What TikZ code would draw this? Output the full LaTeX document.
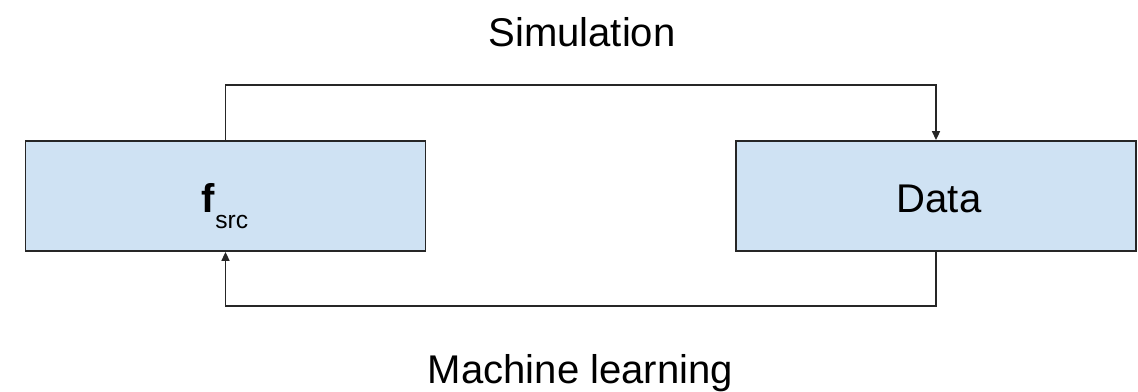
\documentclass[tikz,border=0pt]{standalone}
\usepackage{fontspec}
\setmainfont{Liberation Sans}
\usetikzlibrary{arrows.meta}
\definecolor{boxblue}{RGB}{207,226,243}
\tikzset{
  blockbox/.style={draw=black!85,line width=1.1pt,fill=boxblue,minimum width=8cm,minimum height=2.2cm,inner sep=0pt},
  flowline/.style={line width=0.9pt,draw=black!85},
  lbl/.style={inner sep=0pt,anchor=base}
}
\begin{document}
\begin{tikzpicture}[>={Triangle[length=5pt,width=4.5pt]},font=\fontsize{22.8}{27}\selectfont]
      \useasboundingbox (0,0) rectangle (22.76,7.82);
      \node [blockbox] (fsrc) at (4.51,3.90) {};
      \node [lbl] at (4.50,3.58) {\textbf{f}\raisebox{-0.32cm}{\fontsize{14}{16}\selectfont src}};
      \node [blockbox] (data) at (18.72,3.90) {};
      \node [lbl] (datatxt) at (18.78,3.58) {Data};
      % loop between the two blocks
      \coordinate (topl) at (fsrc.north |- 0,6.12);
      \coordinate (topr) at (data.north |- 0,6.12);
      \coordinate (botl) at (fsrc.south |- 0,1.70);
      \coordinate (botr) at (data.south |- 0,1.70);
      \draw [flowline,->] (fsrc.north) -- (topl) -- (topr) -- (data.north);
      \draw [flowline,->] (data.south) -- (botr) -- (botl) -- (fsrc.south);
      \node [lbl] (sim) at (11.64,6.88) {Simulation};
      \node [lbl] (ml) at (11.61,0.16) {Machine learning};
    \end{tikzpicture}
\end{document}
